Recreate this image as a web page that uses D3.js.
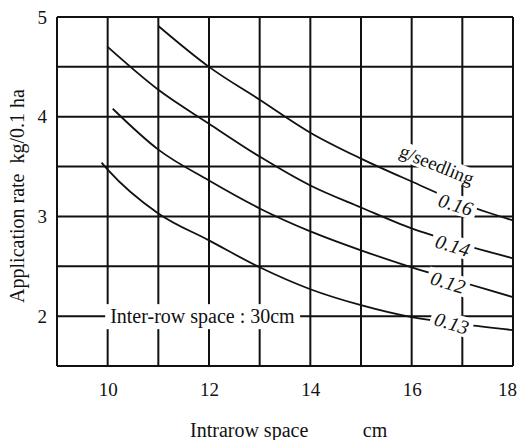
<!DOCTYPE html>
<html>
<head>
<meta charset="utf-8">
<script src="https://cdn.jsdelivr.net/npm/d3@7"></script>
<style>
  body { margin: 0; background: #fff; }
  text { font-family: "Liberation Serif", "Times New Roman", serif; fill: #111; }
</style>
</head>
<body>
<svg id="chart" width="521" height="440"></svg>
<script>
// valeurs (cm -> kg/0.1 ha)
var x016 = [11, 12, 13, 14, 15, 16, 17, 18];
var y016 = [4.91, 4.50, 4.17, 3.84, 3.58, 3.35, 3.13, 2.96];
var x014 = [10, 11, 12, 13, 14, 15, 16, 17, 18];
var y014 = [4.70, 4.27, 3.93, 3.60, 3.31, 3.09, 2.88, 2.72, 2.58];
var x012 = [10.1, 11, 12, 13, 14, 15, 16, 17, 18];
var y012 = [4.08, 3.67, 3.36, 3.08, 2.85, 2.66, 2.49, 2.34, 2.19];
var x013 = [9.88, 10, 11, 12, 13, 14, 15, 16, 17, 18];
var y013 = [3.54, 3.47, 3.03, 2.76, 2.49, 2.27, 2.11, 1.99, 1.92, 1.86];
var seriesNames = ['0.16', '0.14', '0.12', '0.13'];
var xTicks = [10, 12, 14, 16, 18];
var yTicks = [2, 3, 4, 5];

var svg = d3.select('#chart');
var x = d3.scaleLinear().domain([9, 18]).range([57, 513]);
var y = d3.scaleLinear().domain([1.5, 5]).range([366, 17]);

// grille
var grid = svg.append('g').attr('stroke', '#111').attr('stroke-width', 2);
grid.selectAll('line.v')
  .data(d3.range(9, 18.01, 1))
  .enter().append('line')
  .attr('x1', d => x(d)).attr('x2', d => x(d))
  .attr('y1', y(5)).attr('y2', y(1.5));
grid.selectAll('line.h')
  .data(d3.range(1.5, 5.01, 0.5))
  .enter().append('line')
  .attr('x1', x(9)).attr('x2', x(18))
  .attr('y1', d => y(d)).attr('y2', d => y(d));

// axes (texte seulement)
var xAxis = d3.axisBottom(x).tickValues(xTicks).tickFormat(d3.format('d')).tickSize(0).tickPadding(17);
svg.append('g').attr('transform', 'translate(0,' + y(1.5) + ')').call(xAxis)
  .attr('font-family', null).attr('font-size', null)
  .call(g => g.select('.domain').remove())
  .selectAll('text').style('font-size', '19px').attr('fill', '#111')
  .attr('dx', d => d === 18 ? -6 : 0);
var yAxis = d3.axisLeft(y).tickValues(yTicks).tickFormat(d3.format('d')).tickSize(0).tickPadding(10);
svg.append('g').attr('transform', 'translate(' + x(9) + ',0)').call(yAxis)
  .attr('font-family', null).attr('font-size', null)
  .call(g => g.select('.domain').remove())
  .selectAll('text').style('font-size', '19px').attr('fill', '#111');

// courbes
var line = d3.line().x(d => x(d[0])).y(d => y(d[1])).curve(d3.curveMonotoneX);
var series = [d3.zip(x016, y016), d3.zip(x014, y014), d3.zip(x012, y012), d3.zip(x013, y013)];
svg.append('g').selectAll('path')
  .data(series)
  .enter().append('path')
  .attr('d', line)
  .attr('fill', 'none')
  .attr('stroke', '#111')
  .attr('stroke-width', 1.8);

// étiquette avec fond blanc qui coupe les traits
function label(txt, cx, cy, angle, size, italic, padX, padY) {
  var g = svg.append('g').attr('transform', 'translate(' + cx + ',' + cy + ') rotate(' + angle + ')');
  var t = g.append('text')
    .attr('text-anchor', 'middle')
    .attr('dy', '0.35em')
    .style('font-size', size + 'px')
    .style('font-style', italic ? 'italic' : 'normal')
    .text(txt);
  var b = t.node().getBBox();
  g.insert('rect', 'text')
    .attr('x', b.x - padX).attr('y', b.y - padY)
    .attr('width', b.width + 2 * padX).attr('height', b.height + 2 * padY)
    .attr('fill', '#fff');
}

var labelPos = [[16.87, 3.12], [16.81, 2.71], [16.72, 2.34], [16.79, 1.93]];
seriesNames.forEach(function(n, i) {
  label(n, x(labelPos[i][0]), y(labelPos[i][1]), 17, 20, true, 4, -1);
});
label('g/seedling', x(16.5), y(3.52), 22, 19, false, 3, -1);
label('Inter-row space : 30cm', x(11.87), y(2), 0, 20, false, 5, 1);

// titres
svg.append('text')
  .attr('transform', 'translate(24,' + 196 + ') rotate(-90)')
  .attr('text-anchor', 'middle')
  .style('font-size', '20px')
  .attr('xml:space', 'preserve')
  .text('Application rate  kg/0.1 ha');
svg.append('text')
  .attr('x', 190).attr('y', 437)
  .style('font-size', '20px')
  .text('Intrarow space');
svg.append('text')
  .attr('x', 375).attr('y', 437)
  .attr('text-anchor', 'middle')
  .style('font-size', '20px')
  .text('cm');
</script>
</body>
</html>
